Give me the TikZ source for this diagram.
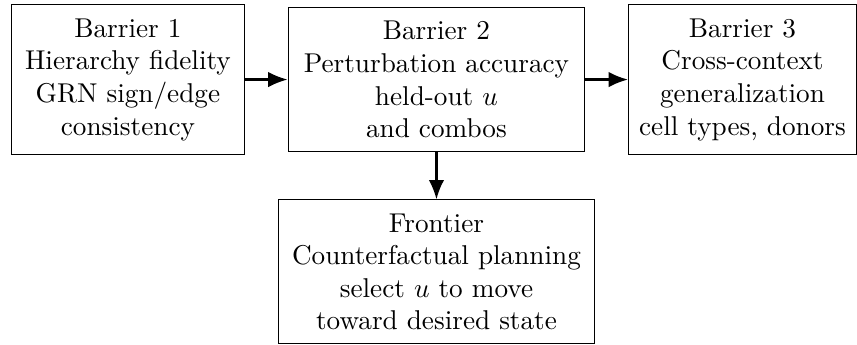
\documentclass[tikz,border=0pt]{standalone}
\usetikzlibrary{positioning,arrows.meta}
\begin{document}
\begin{tikzpicture}[
node distance=6.1mm and 5.5mm,
barreira/.style={rectangle,draw,align=center,
inner sep=5pt},
seta/.style={thick,-{Latex[length=2.5mm,width=2mm]}}
]

% barreiras
\node[barreira] (b1) {Barrier 1\\Hierarchy fidelity\\GRN sign/edge\\consistency};
\node[barreira,inner xsep=5.8pt,right=of b1] (b2) {Barrier 2\\Perturbation accuracy\\held-out $u$\\and combos};
\node[barreira,inner xsep=3.9pt,right=of b2] (b3) {Barrier 3\\Cross-context\\generalization\\cell types, donors};
\node[barreira,below=of b2] (fr) {Frontier\\Counterfactual planning\\select $u$ to move\\toward desired state};

% setas
\draw[seta] (b1) -- (b2);
\draw[seta] (b2) -- (b3);
\draw[seta] (b2) -- (fr);

% margem
\path (b1.north west) ++(-4pt,1.6pt) coordinate (margem);

\end{tikzpicture}
\end{document}
